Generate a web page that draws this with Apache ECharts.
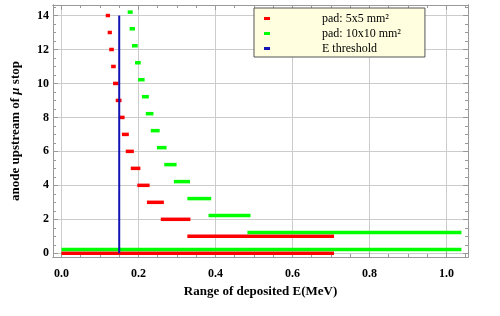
<!DOCTYPE html>
<html><head><meta charset="utf-8">
<script src="https://cdn.jsdelivr.net/npm/echarts@6/dist/echarts.min.js"></script>
<style>html,body{margin:0;padding:0;background:#fff}#c{width:500px;height:316px}</style>
</head><body><div id="c"></div>
<script>
// anode levels
const redLevels   = [0,1,2,3,4,5,6,7,8,9,10,11,12,13,14];
const greenLevels = [0.22,1.22,2.22,3.22,4.22,5.22,6.22,7.22,8.22,9.22,10.22,11.22,12.22,13.22,14.2];
// pad 5x5 mm^2 : deposited E range (MeV)
const redStart = [0, 0.327, 0.258, 0.222, 0.197, 0.180, 0.167, 0.157, 0.149, 0.141, 0.134, 0.129, 0.124, 0.120, 0.115];
const redEnd   = [0.708, 0.708, 0.335, 0.266, 0.229, 0.205, 0.188, 0.175, 0.164, 0.156, 0.148, 0.141, 0.136, 0.131, 0.126];
// pad 10x10 mm^2
const greenStart = [0, 0.483, 0.382, 0.327, 0.292, 0.267, 0.248, 0.232, 0.219, 0.209, 0.199, 0.191, 0.183, 0.177, 0.172];
const greenEnd   = [1.039, 1.039, 0.491, 0.389, 0.334, 0.299, 0.273, 0.255, 0.239, 0.227, 0.216, 0.206, 0.198, 0.191, 0.185];
// E threshold
const threshold = [[0.15, 0], [0.15, 14]];
// ticks
const xMajor = [0, 0.2, 0.4, 0.6, 0.8, 1.0];
const xMinor = [0.05,0.1,0.15,0.25,0.3,0.35,0.45,0.5,0.55,0.65,0.7,0.75,0.85,0.9,0.95,1.05];
const yMajor = [0, 2, 4, 6, 8, 10, 12, 14];
const yMinor = [0.5,1,1.5,2.5,3,3.5,4.5,5,5.5,6.5,7,7.5,8.5,9,9.5,10.5,11,11.5,12.5,13,13.5,14.5];

const X_MIN = -0.022, X_MAX = 1.056, Y_MIN = -0.22, Y_MAX = 14.62;
const FONT = 'Liberation Serif';
const AX = '#999999';

function renderBar(params, api) {
  const y = api.value(2);
  const p1 = api.coord([api.value(0), y]);
  const p2 = api.coord([api.value(1), y]);
  const h = 3.5;
  return { type: 'rect', shape: { x: p1[0], y: p1[1] - h / 2, width: p2[0] - p1[0], height: h }, style: api.style() };
}

function xAx(pos, ticks, len, labels) {
  return {
    type: 'value', position: pos, min: X_MIN, max: X_MAX,
    axisLine: { show: true, onZero: false, lineStyle: { color: AX, width: 1 } },
    axisTick: { show: true, inside: true, length: len, customValues: ticks, lineStyle: { color: AX } },
    axisLabel: labels ? { show: true, customValues: ticks, margin: 11, formatter: v => v.toFixed(1),
      fontFamily: FONT, fontWeight: 'bold', fontSize: 12, color: '#000' } : { show: false },
    splitLine: labels ? { show: true, lineStyle: { color: '#cccccc', width: 1 } } : { show: false },
    name: labels ? 'Range of deposited E(MeV)' : '', nameLocation: 'middle', nameGap: 25,
    nameTextStyle: { fontFamily: FONT, fontWeight: 'bold', fontSize: 13, color: '#000' }
  };
}
function yAx(pos, ticks, len, labels) {
  return {
    type: 'value', position: pos, min: Y_MIN, max: Y_MAX,
    axisLine: { show: true, onZero: false, lineStyle: { color: AX, width: 1 } },
    axisTick: { show: true, inside: true, length: len, customValues: ticks, lineStyle: { color: AX } },
    axisLabel: labels ? { show: true, customValues: ticks, margin: 4,
      fontFamily: FONT, fontWeight: 'bold', fontSize: 12, color: '#000' } : { show: false },
    splitLine: labels ? { show: true, lineStyle: { color: '#cccccc', width: 1 } } : { show: false },
    name: labels ? 'anode upstream of {i|μ} stop' : '', nameLocation: 'middle', nameGap: 31, nameRotate: 90,
    nameTextStyle: { fontFamily: FONT, fontWeight: 'bold', fontSize: 13, color: '#000',
      rich: { i: { fontFamily: FONT, fontWeight: 'bold', fontStyle: 'italic', fontSize: 13, color: '#000' } } }
  };
}

const chart = echarts.init(document.getElementById('c'), null, { renderer: 'canvas' });
chart.setOption({
  animation: false,
  backgroundColor: '#fff',
  grid: { left: 53, right: 32, top: 5, bottom: 59, containLabel: false },
  xAxis: [xAx('bottom', xMajor, 5, true), xAx('bottom', xMinor, 3, false), xAx('top', xMajor, 5, false), xAx('top', xMinor, 3, false)],
  yAxis: [yAx('left', yMajor, 5, true), yAx('left', yMinor, 3, false), yAx('right', yMajor, 5, false), yAx('right', yMinor, 3, false)],
  legend: {
    orient: 'vertical', left: 254, top: 8,
    padding: [3, 24, 1, 10], itemGap: 0, itemWidth: 6, itemHeight: 3,
    backgroundColor: '#ffffe0', borderColor: '#555555', borderWidth: 1,
    textStyle: { fontFamily: FONT, fontSize: 12, color: '#000', lineHeight: 15, padding: [0, 0, 0, 47] },
    data: [
      { name: 'pad: 5x5 mm²', icon: 'rect' },
      { name: 'pad: 10x10 mm²', icon: 'rect' },
      { name: 'E threshold', icon: 'rect' }
    ]
  },
  series: [
    {
      name: 'pad: 5x5 mm²', type: 'custom', renderItem: renderBar,
      itemStyle: { color: '#ff0000' },
      encode: { x: [0, 1], y: 2 },
      data: redLevels.map((lv, i) => [redStart[i], redEnd[i], lv])
    },
    {
      name: 'pad: 10x10 mm²', type: 'custom', renderItem: renderBar,
      itemStyle: { color: '#00ff00' },
      encode: { x: [0, 1], y: 2 },
      data: greenLevels.map((lv, i) => [greenStart[i], greenEnd[i], lv])
    },
    {
      name: 'E threshold', type: 'line', data: threshold, symbol: 'none',
      itemStyle: { color: '#1414b4' },
      lineStyle: { color: '#1414b4', width: 2 }
    }
  ]
});
</script></body></html>
